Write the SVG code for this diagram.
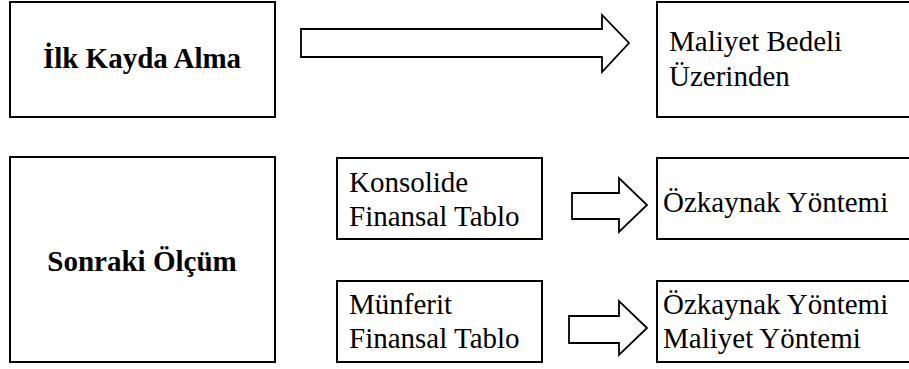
<svg xmlns="http://www.w3.org/2000/svg" width="909" height="369" viewBox="0 0 909 369">
<style>
.box{fill:#fff;stroke:#000;stroke-width:2}
.arr{fill:#fff;stroke:#000;stroke-width:1.8;stroke-linejoin:miter}
text{font-family:"Liberation Serif","Times New Roman",serif;font-size:29px;fill:#000}
.b{font-weight:bold;text-anchor:middle}
</style>
<rect width="909" height="369" fill="#fff"/>
<g id="connectors">
<polygon class="arr" points="301,29 602,29 602,15 629,43 602,72 602,57 301,57"/>
<polygon class="arr" points="572,193 619,193 619,178 647,205 619,232 619,219 572,219"/>
<polygon class="arr" points="569,316 619,316 619,301 647,328 619,355 619,343 569,343"/>
</g>
<g id="ilk">
<rect class="box" x="10" y="2" width="265" height="115"/>
<text class="b" x="142" y="68">İlk Kayda Alma</text>
</g>
<g id="maliyet">
<rect class="box" x="657" y="2" width="270" height="115"/>
<text x="669" y="51">Maliyet Bedeli</text>
<text x="669" y="86">Üzerinden</text>
</g>
<g id="sonraki">
<rect class="box" x="10" y="157" width="265" height="205"/>
<text class="b" x="142" y="271">Sonraki Ölçüm</text>
</g>
<g id="konsolide">
<rect class="box" x="337" y="158" width="205" height="81"/>
<text x="349" y="192">Konsolide</text>
<text x="349" y="226">Finansal Tablo</text>
</g>
<g id="ozkaynak1">
<rect class="box" x="657" y="158" width="270" height="81"/>
<text x="663" y="212">Özkaynak Yöntemi</text>
</g>
<g id="munferit">
<rect class="box" x="337" y="281" width="205" height="81"/>
<text x="349" y="314">Münferit</text>
<text x="349" y="348">Finansal Tablo</text>
</g>
<g id="ozkaynak2">
<rect class="box" x="657" y="281" width="270" height="81"/>
<text x="663" y="314">Özkaynak Yöntemi</text>
<text x="663" y="348">Maliyet Yöntemi</text>
</g>
</svg>
